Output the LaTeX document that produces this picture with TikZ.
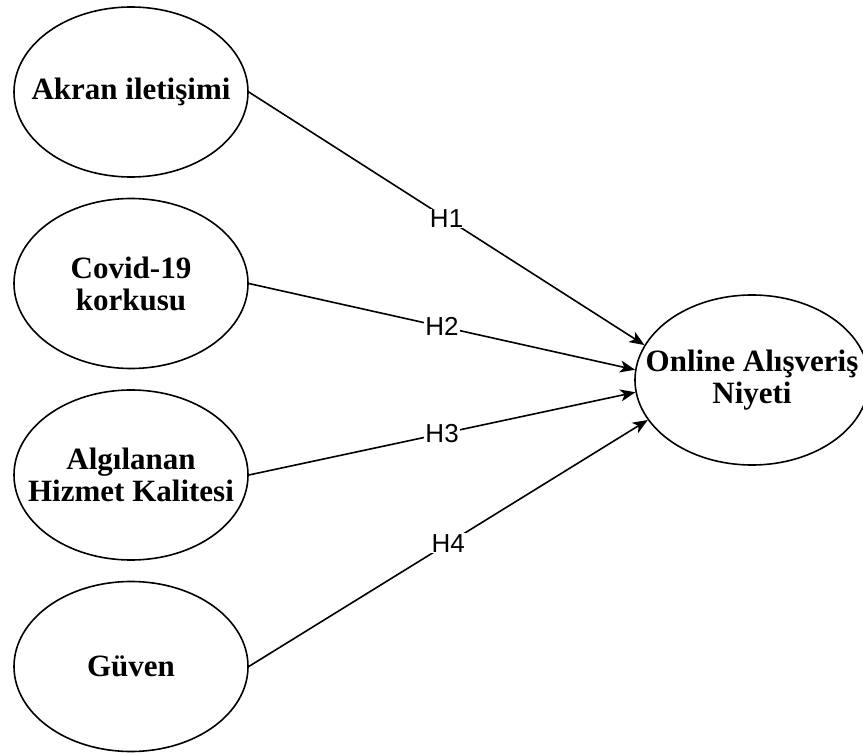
\documentclass[tikz,border=0pt]{standalone}
\usepackage{fontspec}
\setmainfont{Liberation Serif}
\newfontfamily\labelfont{Liberation Sans}
\usetikzlibrary{shapes.geometric,arrows.meta}
\begin{document}
\begin{tikzpicture}[x=1pt,y=-1pt,
  construct/.style={draw, line width=1.6pt, ellipse, minimum width=234pt, minimum height=170pt,
    inner sep=0pt},
  ctext/.style={align=center, inner sep=0pt, font=\fontsize{31}{32}\selectfont\bfseries},
  link/.style={line width=1.6pt, -{Stealth[length=15pt,width=12pt,inset=4pt]}},
  hyp/.style={fill=white, inner sep=1pt, font=\labelfont\fontsize{26}{28}\selectfont}]
\useasboundingbox (0,0) rectangle (863,754);
\node[construct, label={[ctext]center:{Akran iletişimi}}] (a) at (131,92) {};
\node[construct, label={[ctext]center:{Covid-19\\korkusu}}] (b) at (131,283.5) {};
\node[construct, label={[ctext]center:{Algılanan\\Hizmet Kalitesi}}] (c) at (131,475) {};
\node[construct, label={[ctext]center:{Güven}}] (d) at (131,666.5) {};
\node[construct, label={[ctext]center:{Online Alışveriş\\Niyeti}}] (t) at (752,380) {};
\draw[link] (a.east) -- node[hyp] {H1} (t.162.6);
\draw[link] (b.east) -- node[hyp] {H2} (t.175);
\draw[link] (c.east) -- node[hyp] {H3} (t.186.3);
\draw[link] (d.east) -- node[hyp] {H4} (t.201);
\end{tikzpicture}
\end{document}
